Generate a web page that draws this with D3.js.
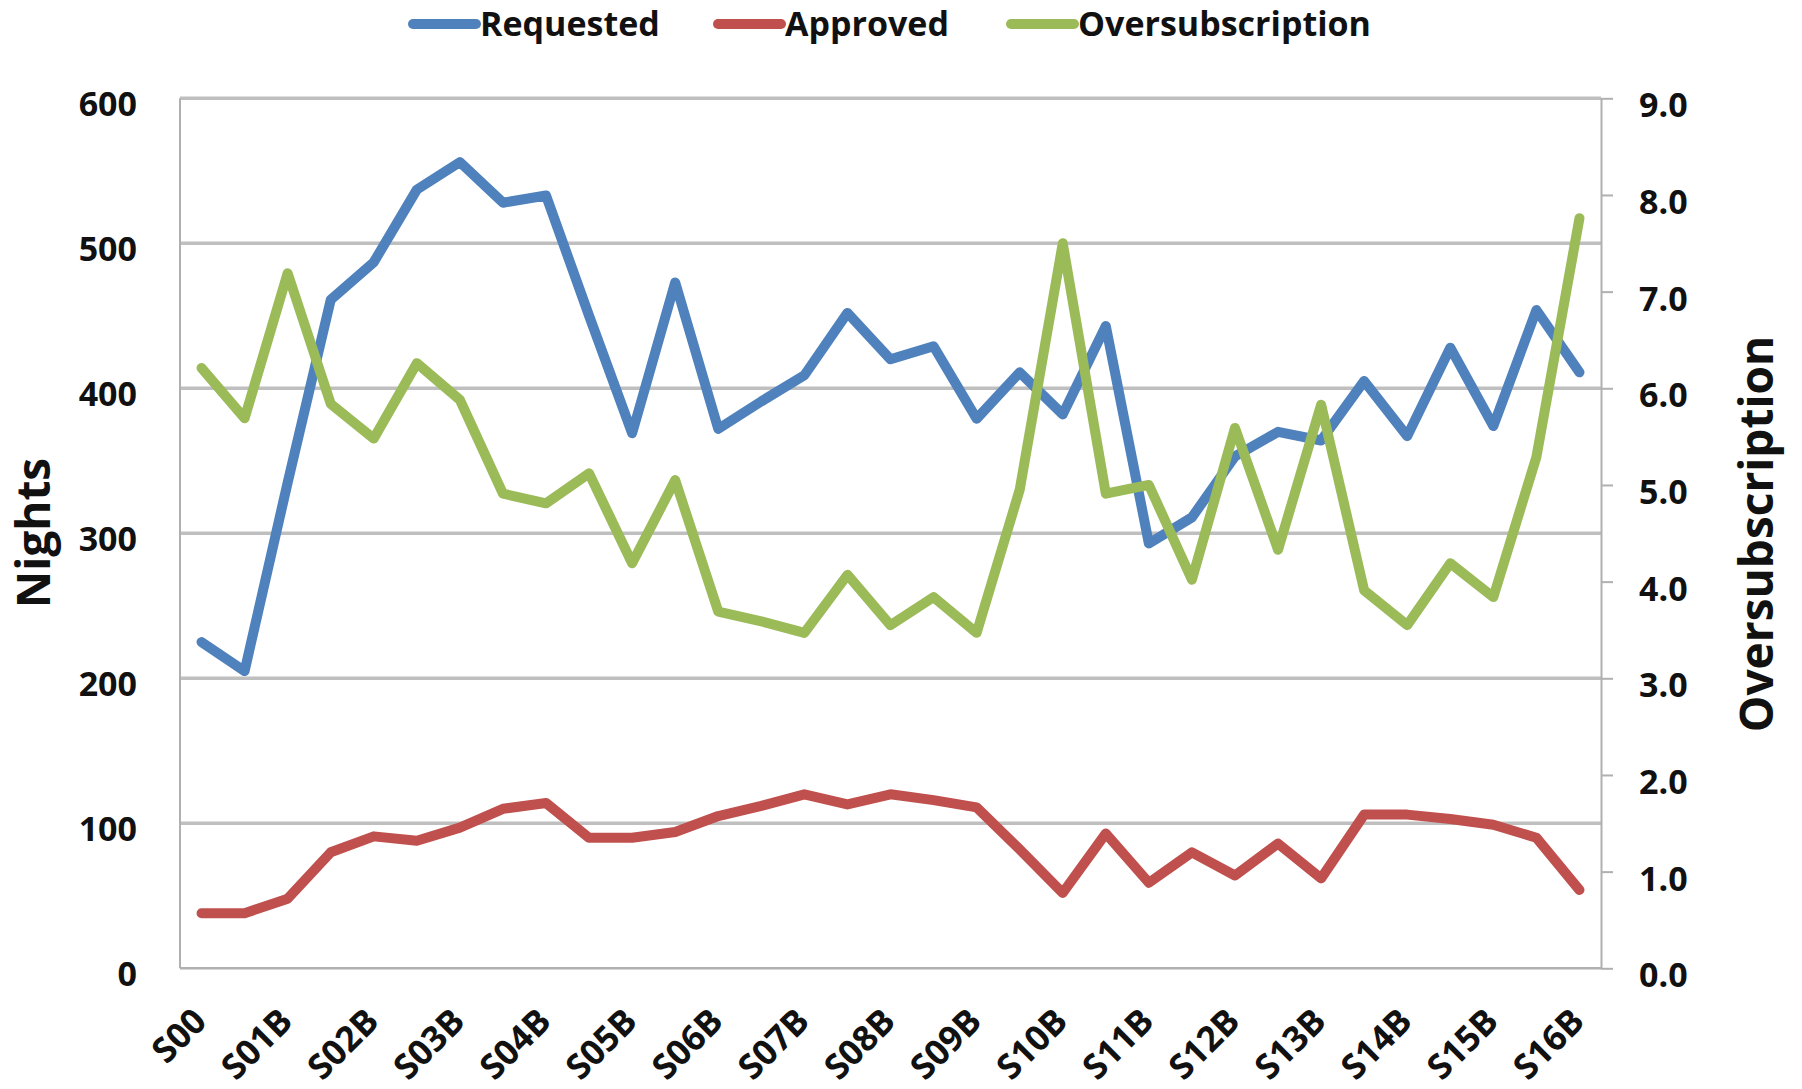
<!DOCTYPE html>
<html>
<head>
<meta charset="utf-8">
<script src="https://cdn.jsdelivr.net/npm/d3@7"></script>
<style>
  html, body { margin: 0; padding: 0; background: #ffffff; }
  svg { display: block; }
  text { font-family: "Open Sans", "DejaVu Sans", sans-serif; font-weight: bold; fill: #111; }
</style>
</head>
<body>
<svg id="chart" width="1802" height="1089"></svg>
<script>
// ---- data ----
const categories = ["S00","S01A","S01B","S02A","S02B","S03A","S03B","S04A","S04B","S05A","S05B",
  "S06A","S06B","S07A","S07B","S08A","S08B","S09A","S09B","S10A","S10B","S11A","S11B",
  "S12A","S12B","S13A","S13B","S14A","S14B","S15A","S15B","S16A","S16B"];
const requested = [225, 205, 335, 461, 487, 537, 556, 528, 533, 450, 369, 473, 372, 391, 409, 452, 420,
  429, 379, 411, 382, 443, 293, 311, 353, 370, 364, 405, 367, 428, 374, 454, 411];
const approved = [38, 38, 48, 80, 91, 88, 97, 110, 114, 90, 90, 94, 105, 112, 120, 113, 120,
  116, 111, 82, 52, 93, 59, 80, 64, 86, 62, 106, 106, 103, 99, 90, 54];
const oversubscription = [6.21, 5.69, 7.19, 5.84, 5.48, 6.26, 5.88, 4.91, 4.81, 5.12, 4.19, 5.05, 3.69,
  3.59, 3.47, 4.07, 3.55, 3.84, 3.47, 4.95, 7.50, 4.91, 5.00, 4.02, 5.59, 4.33, 5.83, 3.91, 3.55,
  4.19, 3.84, 5.29, 7.76];
const leftTicks = [0, 100, 200, 300, 400, 500, 600];
const rightTicks = [0, 1, 2, 3, 4, 5, 6, 7, 8, 9];
const xLabels = categories.filter((d, i) => i % 2 === 0);
const seriesNames = ["Requested", "Approved", "Oversubscription"];
const seriesColors = ["#4f81bd", "#c0504d", "#9bbb59"];

// ---- layout ----
const svg = d3.select("#chart");
const L = 180, R = 1601, T = 98.3, B = 968.3;

const x = d3.scaleBand().domain(categories).range([L, R]).padding(0);
const bw = x.bandwidth();
const cx = d => x(d) + bw / 2;
const yL = d3.scaleLinear().domain([0, 600]).range([B, T]);
const yR = d3.scaleLinear().domain([0, 9]).range([B, T]);

svg.append("rect").attr("width", 1802).attr("height", 1089).attr("fill", "#fff");

// gridlines
svg.append("g").selectAll("line")
  .data(leftTicks.filter(d => d > 0))
  .join("line")
  .attr("x1", L).attr("x2", R)
  .attr("y1", d => yL(d)).attr("y2", d => yL(d))
  .attr("stroke", "#bfbfbf").attr("stroke-width", 3.5);

// axis lines
svg.append("line").attr("x1", L).attr("x2", L).attr("y1", T).attr("y2", B)
  .attr("stroke", "#b0b0b0").attr("stroke-width", 2);
svg.append("line").attr("x1", L).attr("x2", R).attr("y1", B).attr("y2", B)
  .attr("stroke", "#b0b0b0").attr("stroke-width", 2.5);

// left axis
const gL = svg.append("g").attr("transform", `translate(${L},0)`)
  .call(d3.axisLeft(yL).tickValues(leftTicks).tickSize(0).tickPadding(43).tickFormat(d3.format("d")));
gL.select(".domain").remove();
gL.selectAll("text").attr("font-size", 34).attr("dy", "0.4em")
  .attr("transform", "translate(0,4)")
  .style("font-family", "'Open Sans', sans-serif").style("font-weight", "bold").attr("fill", "#111");

// right axis
const gR = svg.append("g").attr("transform", `translate(${R},0)`)
  .call(d3.axisRight(yR).tickValues(rightTicks).tickSizeInner(12).tickSizeOuter(0).tickPadding(26).tickFormat(d3.format(".1f")));
gR.select(".domain").attr("stroke", "#b0b0b0").attr("stroke-width", 2);
gR.selectAll(".tick line").attr("stroke", "#b0b0b0").attr("stroke-width", 2);
gR.selectAll("text").attr("font-size", 34).attr("dy", "0.4em")
  .attr("transform", "translate(0,5)")
  .style("font-family", "'Open Sans', sans-serif").style("font-weight", "bold").attr("fill", "#111");

// bottom axis
const gB = svg.append("g").attr("transform", `translate(0,${B})`)
  .call(d3.axisBottom(x).tickValues(xLabels).tickSize(0));
gB.select(".domain").remove();
gB.selectAll("text")
  .attr("y", 0).attr("dy", 0)
  .attr("text-anchor", "end")
  .attr("transform", "translate(7,55) rotate(-45)")
  .attr("font-size", 35)
  .style("font-family", "'Open Sans', sans-serif").style("font-weight", "bold").attr("fill", "#111");

// axis titles
svg.append("text")
  .attr("transform", "translate(50,533) rotate(-90)")
  .attr("text-anchor", "middle")
  .attr("font-size", 46)
  .text("Nights");
svg.append("text")
  .attr("transform", "translate(1773,534) rotate(-90)")
  .attr("text-anchor", "middle")
  .attr("font-size", 46)
  .text("Oversubscription");

// lines
const lineL = d3.line().x((d, i) => cx(categories[i])).y(d => yL(d)).curve(d3.curveLinear);
const lineR = d3.line().x((d, i) => cx(categories[i])).y(d => yR(d)).curve(d3.curveLinear);

const sw = 10;
svg.append("path").datum(requested).attr("d", lineL)
  .attr("fill", "none").attr("stroke", seriesColors[0]).attr("stroke-width", sw)
  .attr("stroke-linejoin", "round").attr("stroke-linecap", "round");
svg.append("path").datum(approved).attr("d", lineL)
  .attr("fill", "none").attr("stroke", seriesColors[1]).attr("stroke-width", sw)
  .attr("stroke-linejoin", "round").attr("stroke-linecap", "round");
svg.append("path").datum(oversubscription).attr("d", lineR)
  .attr("fill", "none").attr("stroke", seriesColors[2]).attr("stroke-width", sw)
  .attr("stroke-linejoin", "round").attr("stroke-linecap", "round");

// legend
const legendX = [413, 718, 1011];
const lg = svg.append("g").selectAll("g").data(seriesNames).join("g")
  .attr("transform", (d, i) => `translate(${legendX[i]},24)`);
lg.append("line").attr("x1", 0).attr("x2", 63).attr("y1", 0).attr("y2", 0)
  .attr("stroke", (d, i) => seriesColors[i]).attr("stroke-width", 10).attr("stroke-linecap", "round");
lg.append("text").attr("x", 67).attr("y", 0).attr("dy", "0.36em")
  .attr("font-size", 34).text(d => d);
</script>
</body>
</html>
